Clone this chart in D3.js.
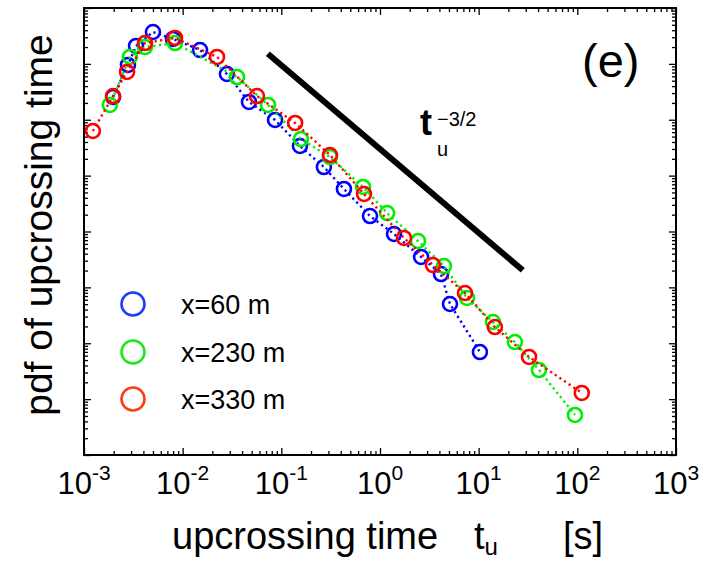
<!DOCTYPE html>
<html>
<head>
<meta charset="utf-8">
<script src="https://cdn.jsdelivr.net/npm/d3@7/dist/d3.min.js"></script>
<style>
  body { margin: 0; background: #fff; }
  text { font-family: "Liberation Sans", Arial, Helvetica, sans-serif; fill: #000; }
</style>
</head>
<body>
<svg id="chart" width="704" height="563"></svg>
<script>
// Upcrossing time t_u [s] and pdf values for each measuring station
const tX60  = [0.00197, 0.00279, 0.00337, 0.00500, 0.00798, 0.0150, 0.0281, 0.0470, 0.0863, 0.1545, 0.270, 0.431, 0.792, 1.387, 2.61, 4.15, 5.12, 10.3];
const pX60  = [2.55, 9.55, 20.9, 37.2, 27.9, 17.7, 6.59, 2.08, 0.99, 0.339, 0.1426, 0.0577, 0.0189, 0.00902, 0.00350, 0.00173, 0.000504, 0.0000697];

const tX230 = [0.00183, 0.00292, 0.00415, 0.00836, 0.0356, 0.0733, 0.158, 0.311, 0.673, 1.18, 2.43, 4.45, 7.62, 13.97, 23.3, 40.8, 94.6];
const pX230 = [1.84, 13.3, 20.0, 23.6, 5.82, 1.84, 0.452, 0.215, 0.0626, 0.0214, 0.00676, 0.00241, 0.000646, 0.000240, 0.000105, 0.0000332, 0.0000052];

const tX330 = [0.00123, 0.00197, 0.00273, 0.00415, 0.00836, 0.0223, 0.0566, 0.138, 0.311, 0.689, 1.75, 3.44, 7.27, 14.6, 32.4, 111];
const pX330 = [0.629, 2.66, 7.16, 23.6, 29.1, 13.3, 2.66, 0.875, 0.234, 0.0469, 0.00765, 0.00251, 0.000793, 0.000195, 0.0000568, 0.0000129];

const seriesNames  = ["x=60 m", "x=230 m", "x=330 m"];
const seriesColors = ["#0000ff", "#00ee00", "#ff0000"];
const legendColors = ["#1f3cff", "#1fe81f", "#ff3a1a"];

// Decade exponents labelled on the time axis
const xTickExponents = [-3, -2, -1, 0, 1, 2, 3];
// Decades on the (unlabelled) pdf axis
const yDecadeExponents = [-6, -5, -4, -3, -2, -1, 0, 1, 2];

// Reference power law t_u^(-3/2)
const slopeT = [0.073, 28];
const slopeAmp = 0.3;
const slopeExp = -1.5;

const svg = d3.select("#chart");
const L = 84, R = 676, T = 8, B = 455;

const x = d3.scaleLog().domain([1e-3, 1e3]).range([L, R]);
const y = d3.scaleLog().domain([1e-6, 1e2]).range([B, T]);

const xMajor = xTickExponents.map(e => Math.pow(10, e));
const xMinor = [];
xTickExponents.slice(0, -1).forEach(e => { for (let k = 2; k <= 9; k++) xMinor.push(k * Math.pow(10, e)); });
const yMajor = yDecadeExponents.map(e => Math.pow(10, e));
const yMinor = [];
yDecadeExponents.slice(0, -1).forEach(e => { for (let k = 2; k <= 9; k++) yMinor.push(k * Math.pow(10, e)); });

function tickAxis(axisFn, scale, values, size, transform) {
  const g = svg.append("g").attr("transform", transform)
    .call(axisFn(scale).tickValues(values).tickSize(-size).tickFormat(""));
  g.select(".domain").remove();
  g.selectAll(".tick line").attr("stroke", "#000").attr("stroke-width", 1.3);
  return g;
}
tickAxis(d3.axisBottom, x, xMajor, 7, `translate(0,${B})`);
tickAxis(d3.axisBottom, x, xMinor, 4, `translate(0,${B})`);
tickAxis(d3.axisTop, x, xMajor, 7, `translate(0,${T})`);
tickAxis(d3.axisTop, x, xMinor, 4, `translate(0,${T})`);
tickAxis(d3.axisLeft, y, yMajor, 7, `translate(${L},0)`);
tickAxis(d3.axisLeft, y, yMinor, 4, `translate(${L},0)`);
tickAxis(d3.axisRight, y, yMajor, 7, `translate(${R},0)`);
tickAxis(d3.axisRight, y, yMinor, 4, `translate(${R},0)`);

// Frame
svg.append("rect").attr("x", L).attr("y", T).attr("width", R - L).attr("height", B - T)
  .attr("fill", "none").attr("stroke", "#000").attr("stroke-width", 2);

// Tick labels 10^n
const xl = svg.append("g");
xTickExponents.forEach(e => {
  const t = xl.append("text").attr("x", x(Math.pow(10, e))).attr("y", 494)
    .attr("text-anchor", "middle").attr("font-size", 31);
  t.append("tspan").text("10");
  t.append("tspan").attr("dy", -14).attr("font-size", 21).text(e < 0 ? "-" + (-e) : String(e));
});

// Axis titles
const xt = svg.append("text").attr("x", 172).attr("y", 549).attr("font-size", 38);
xt.append("tspan").text("upcrossing time");
xt.append("tspan").attr("x", 474).text("t");
xt.append("tspan").attr("dy", 6).attr("font-size", 24).text("u");
xt.append("tspan").attr("x", 563).attr("dy", -6).text("[s]");

svg.append("text").attr("transform", "translate(52,225) rotate(-90)")
  .attr("text-anchor", "middle").attr("font-size", 39).text("pdf of upcrossing time");

// Series
const series = [
  { t: tX60,  p: pX60 },
  { t: tX230, p: pX230 },
  { t: tX330, p: pX330 }
];
const line = d3.line().x(d => x(d[0])).y(d => y(d[1]));
series.forEach((s, i) => {
  const pts = s.t.map((t, j) => [t, s.p[j]]);
  const g = svg.append("g");
  g.append("path").attr("d", line(pts)).attr("fill", "none")
    .attr("stroke", seriesColors[i]).attr("stroke-width", 2.4).attr("stroke-dasharray", "2.2,3.4");
  g.selectAll("circle").data(pts).join("circle")
    .attr("cx", d => x(d[0])).attr("cy", d => y(d[1])).attr("r", 7)
    .attr("fill", "none").attr("stroke", seriesColors[i]).attr("stroke-width", 2.6);
});

// Power-law guide
svg.append("line")
  .attr("x1", x(slopeT[0])).attr("y1", y(slopeAmp * Math.pow(slopeT[0], slopeExp)))
  .attr("x2", x(slopeT[1])).attr("y2", y(slopeAmp * Math.pow(slopeT[1], slopeExp)))
  .attr("stroke", "#000").attr("stroke-width", 6);

const pl = svg.append("g");
pl.append("text").attr("x", 420).attr("y", 135).attr("font-size", 36).attr("font-weight", "bold").text("t");
pl.append("text").attr("x", 437).attr("y", 156).attr("font-size", 20).text("u");
pl.append("text").attr("x", 437).attr("y", 126).attr("font-size", 20).text("\u22123/2");

// Panel label
svg.append("text").attr("x", 582).attr("y", 77).attr("font-size", 47).text("(e)");

// Legend
const legendY = [304, 352, 399];
seriesNames.forEach((name, i) => {
  svg.append("circle").attr("cx", 133).attr("cy", legendY[i]).attr("r", 11.5)
    .attr("fill", "none").attr("stroke", legendColors[i]).attr("stroke-width", 2.6);
  svg.append("text").attr("x", 181).attr("y", legendY[i] + 10).attr("font-size", 27).text(name);
});
</script>
</body>
</html>
